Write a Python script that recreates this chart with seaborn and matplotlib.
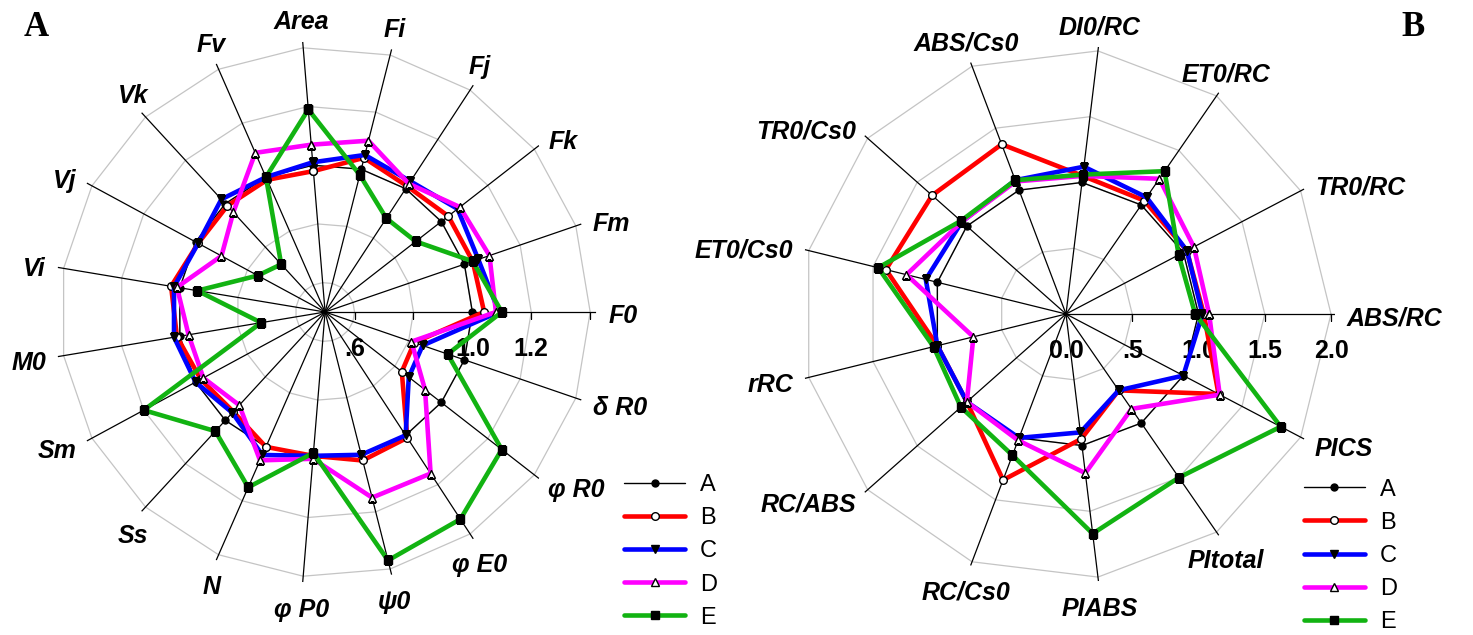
import numpy as np
import pandas as pd
import seaborn as sns
import matplotlib
matplotlib.use('Agg')
from matplotlib import pyplot as plt

# ---- panel A: fluorescence parameters (relative to control) ----
cats_a = ['Area', 'Fi', 'Fj', 'Fk', 'Fm', 'F0', 'δ R0', 'φ R0', 'φ E0', 'ψ0',
          'φ P0', 'N', 'Ss', 'Sm', 'M0', 'Vi', 'Vj', 'Vk', 'Fv']
a_A = [1.00] * 19
a_B = [0.98, 1.04, 1.01, 1.03, 1.03, 1.04, 0.82, 0.83, 1.01, 1.02,
       0.99, 1.00, 0.96, 0.98, 1.01, 1.03, 0.99, 0.99, 0.99]
a_C = [1.01, 1.05, 1.03, 1.07, 1.05, 1.09, 0.85, 0.86, 1.00, 1.00,
       0.99, 1.03, 0.965, 1.00, 1.02, 1.02, 0.99, 1.02, 1.00]
a_D = [1.07, 1.10, 1.02, 1.08, 1.09, 1.08, 0.81, 0.93, 1.155, 1.15,
       1.00, 1.05, 0.93, 0.97, 0.97, 1.01, 0.90, 0.96, 1.09]
a_E = [1.19, 0.98, 0.88, 0.89, 1.03, 1.10, 0.94, 1.26, 1.34, 1.37,
       0.98, 1.15, 1.05, 1.20, 0.72, 0.94, 0.76, 0.72, 1.00]
ticks_a = [0.6, 1.0, 1.2]
tick_labels_a = ['.6', '1.0', '1.2']
rings_a = [0.6, 0.8, 1.0, 1.2, 1.4]

# ---- panel B: JIP-test parameters ----
cats_b = ['ABS/RC', 'TR0/RC', 'ET0/RC', 'DI0/RC', 'ABS/Cs0', 'TR0/Cs0', 'ET0/Cs0',
          'rRC', 'RC/ABS', 'RC/Cs0', 'PIABS', 'PItotal', 'PICS']
b_A = [1.00] * 13
b_B = [1.04, 1.03, 1.04, 1.05, 1.37, 1.35, 1.40, 1.00, 1.00, 1.34, 0.95, 0.70, 1.30]
b_C = [1.03, 1.03, 1.07, 1.12, 1.08, 1.05, 1.09, 1.00, 1.00, 1.00, 0.90, 0.70, 1.00]
b_D = [1.08, 1.09, 1.24, 1.05, 1.07, 1.05, 1.24, 0.72, 1.00, 1.02, 1.21, 0.87, 1.31]
b_E = [0.975, 0.96, 1.31, 1.06, 1.08, 1.06, 1.46, 1.03, 1.06, 1.14, 1.67, 1.50, 1.83]
ticks_b = [0.0, 0.5, 1.0, 1.5, 2.0]
tick_labels_b = ['0.0', '.5', '1.0', '1.5', '2.0']
rings_b = [0.5, 1.0, 1.5, 2.0]

groups = ['A', 'B', 'C', 'D', 'E']
styles = {
    'A': dict(color='black', lw=1.0, marker='o', mfc='black', ms=5),
    'B': dict(color='#ff0000', lw=3.3, marker='o', mfc='white', ms=5.5),
    'C': dict(color='#0000ff', lw=3.3, marker='v', mfc='black', ms=6),
    'D': dict(color='#ff00ff', lw=3.3, marker='^', mfc='white', ms=6),
    'E': dict(color='#12b312', lw=3.3, marker='s', mfc='black', ms=5.5),
}

sns.set_style('white')
plt.rcParams['font.family'] = ['Liberation Sans', 'DejaVu Sans']
plt.rcParams['text.color'] = 'black'

fig = plt.figure(figsize=(14.73, 6.35), dpi=100)


def radar(rect, cats, series, rmin, rmax, rings, ticks, tick_labels, offset, direction):
    ax = fig.add_axes(rect, projection='polar')
    ax.set_theta_offset(offset)
    ax.set_theta_direction(direction)
    ax.grid(False)
    ax.set_xticks([])
    ax.set_yticks([])
    ax.spines['polar'].set_visible(False)
    ax.patch.set_alpha(0)

    n = len(cats)
    theta = np.arange(n) * 2 * np.pi / n
    closed = np.append(theta, theta[0] + 2 * np.pi)

    for r in rings:
        ax.plot(closed, [r] * (n + 1), color='#c4c4c4', lw=0.9, zorder=1)
    for t in theta:
        ax.plot([t, t], [rmin, rmax], color='black', lw=0.9, zorder=2)

    # radial tick marks and labels on the horizontal spoke
    zero = (0 - offset) / direction
    ax.plot([zero] * len(rings), rings, ls='', marker=3, ms=5, color='black', mew=0.9, zorder=2)
    for v, lab in zip(ticks, tick_labels):
        ax.annotate(lab, xy=(zero, v), xytext=(0, -37), textcoords='offset pixels',
                    ha='center', va='center', fontsize=18, fontweight='bold', zorder=1)

    for g in groups:
        vals = series[g]
        df = pd.DataFrame({'theta': closed, 'r': list(vals) + [vals[0]]})
        st = styles[g]
        sns.lineplot(data=df, x='theta', y='r', sort=False, estimator=None, ax=ax,
                     color=st['color'], lw=st['lw'], marker=st['marker'], ms=st['ms'],
                     mfc=st['mfc'], mec='black', mew=1.0, label=g, legend=False, zorder=3)
    ax.set_xlabel('')
    ax.set_ylabel('')
    ax.set_ylim(rmin, rmax)

    # category labels just outside the spoke tips
    gap = 12
    for t, c in zip(theta, cats):
        ang = offset + direction * t
        ux, uy = np.cos(ang), np.sin(ang)
        if abs(ux) > 0.72:
            ha = 'left' if ux > 0 else 'right'
            va = 'center'
        else:
            ha = 'center'
            va = 'bottom' if uy > 0 else 'top'
        ax.annotate(c, xy=(t, rmax), xytext=(ux * gap, uy * gap - 4), textcoords='offset pixels',
                    ha=ha, va=va, fontsize=18, fontweight='bold', fontstyle='italic')
    return ax


ax_a = radar([0.0367, 0.0819, 0.368, 0.8535], cats_a,
             {'A': a_A, 'B': a_B, 'C': a_C, 'D': a_D, 'E': a_E},
             0.5, 1.42, rings_a, ticks_a, tick_labels_a,
             np.deg2rad(90 + 90 / 19), -1)
ax_b = radar([0.5411, 0.0819, 0.3652, 0.8472], cats_b,
             {'A': b_A, 'B': b_B, 'C': b_C, 'D': b_D, 'E': b_E},
             0.0, 2.03, rings_b, ticks_b, tick_labels_b, 0.0, 1)

# legends
for ax, anchor in [(ax_a, (0.4159, 0.2717)), (ax_b, (0.8775, 0.2648))]:
    handles, labels = ax.get_legend_handles_labels()
    fig.legend(handles, labels, loc='upper left', bbox_to_anchor=anchor, frameon=False,
               fontsize=17, handlelength=2.55, labelspacing=0.47, handletextpad=0.65,
               borderpad=0)

fig.text(0.0245, 0.956, 'A', fontsize=25, fontweight='bold', family='Liberation Serif',
         ha='center', va='center')
fig.text(0.959, 0.957, 'B', fontsize=25, fontweight='bold', family='Liberation Serif',
         ha='center', va='center')

fig.savefig('out.png', dpi=100)
